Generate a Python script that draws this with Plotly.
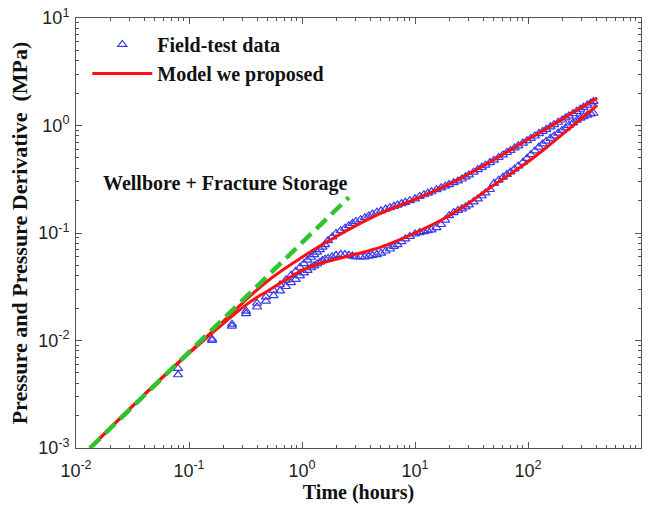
import plotly.graph_objects as go

# ---------------- data ----------------
# Field-test data: pressure branch
p_t = [0.08, 0.16, 0.24, 0.32, 0.40, 0.48, 0.56, 0.64, 0.72, 0.80, 0.88, 0.96, 1.04, 1.12,
       1.20, 1.28, 1.36, 1.44, 1.52, 1.60,
       1.7, 1.85, 2.0, 2.2, 2.4, 2.6, 2.8, 3.0, 3.3, 3.6, 3.9, 4.2, 4.6, 5.0, 5.5, 6.0, 6.5,
       7.0, 7.6, 8.2, 9.0, 10, 11, 12, 13, 14, 15.5, 17, 18.5, 20, 22, 24, 26, 28, 30, 33,
       36, 39, 42, 46, 50, 55, 60, 65, 70, 76, 82, 90, 98, 106, 115, 125, 135, 145, 158,
       170, 185, 200, 215, 230, 250, 270, 290, 310, 335, 360, 380]
p_y = [0.0055, 0.0103, 0.0142, 0.0188, 0.0222, 0.0255, 0.0292, 0.0330, 0.0365, 0.0405,
       0.0440, 0.0480, 0.0520, 0.0560, 0.0595, 0.0630, 0.0665, 0.0700, 0.0740, 0.0780,
       0.085, 0.092, 0.099, 0.105, 0.111, 0.117, 0.123, 0.128, 0.133, 0.139, 0.144, 0.150,
       0.156, 0.161, 0.167, 0.172, 0.177, 0.182, 0.188, 0.193, 0.200, 0.208, 0.219, 0.227,
       0.235, 0.242, 0.253, 0.263, 0.273, 0.282, 0.294, 0.305, 0.318, 0.333, 0.347, 0.368,
       0.389, 0.408, 0.428, 0.452, 0.476, 0.505, 0.533, 0.561, 0.587, 0.618, 0.647, 0.686,
       0.723, 0.759, 0.799, 0.841, 0.882, 0.922, 0.972, 1.017, 1.072, 1.125, 1.177, 1.227,
       1.293, 1.355, 1.417, 1.477, 1.549, 1.620, 1.674]

# Field-test data: derivative branch
d_t = [0.08, 0.16, 0.24, 0.32, 0.40, 0.48, 0.56, 0.64, 0.72, 0.80, 0.88, 0.96, 1.04, 1.12,
       1.20, 1.28, 1.36, 1.44, 1.52, 1.60,
       1.7, 1.85, 2.0, 2.2, 2.4, 2.6, 2.8, 3.0, 3.3, 3.6, 3.9, 4.2, 4.6, 5.0, 5.5, 6.0, 6.5,
       7.0, 7.6, 8.2, 9.0, 10, 11, 12, 13, 14, 15.5, 17, 18.5, 20, 22, 24, 26, 28, 30, 33,
       36, 39, 42, 46, 50, 55, 60, 65, 70, 76, 82, 90, 98, 106, 115, 125, 135, 145, 158,
       170, 185, 200, 215, 230, 250, 270, 290, 310, 335, 360, 380]
d_y = [0.0048, 0.0100, 0.0136, 0.0178, 0.0205, 0.0232, 0.0262, 0.0290, 0.0318, 0.0345,
       0.0370, 0.0400, 0.0425, 0.0450, 0.0475, 0.0495, 0.0515, 0.0535, 0.0555, 0.0570,
       0.058, 0.060, 0.062, 0.063, 0.063, 0.062, 0.061, 0.060, 0.060, 0.060, 0.061, 0.062,
       0.063, 0.065, 0.068, 0.071, 0.075, 0.078, 0.083, 0.088, 0.093, 0.098, 0.101, 0.103,
       0.105, 0.107, 0.112, 0.120, 0.132, 0.145, 0.155, 0.162, 0.168, 0.175, 0.183, 0.195,
       0.208, 0.222, 0.236, 0.254, 0.290, 0.310, 0.330, 0.350, 0.370, 0.395, 0.420, 0.455,
       0.495, 0.535, 0.580, 0.630, 0.675, 0.715, 0.760, 0.800, 0.850, 0.900, 0.950, 1.000,
       1.060, 1.120, 1.170, 1.210, 1.250, 1.280, 1.300]

# Model we proposed: pressure curve
mp_t = [0.0133, 0.05, 0.1, 0.2, 0.35, 0.5, 0.7, 1.0, 1.4, 2.0, 3.0, 5.0, 8.0, 13.6, 25,
        50, 100, 150, 250, 410]
mp_y = [0.001, 0.0039, 0.0077, 0.0150, 0.0262, 0.0360, 0.0465, 0.0595, 0.0745, 0.0925,
        0.117, 0.153, 0.187, 0.236, 0.32, 0.48, 0.74, 0.95, 1.32, 1.80]

# Model we proposed: derivative curve
md_t = [0.0133, 0.05, 0.1, 0.2, 0.35, 0.5, 0.7, 1.0, 1.4, 2.0, 3.0, 5.0, 7.0, 10, 19, 30,
        50, 100, 150, 250, 410]
md_y = [0.001, 0.0039, 0.0076, 0.0143, 0.0230, 0.0290, 0.0360, 0.0450, 0.0515, 0.0570,
        0.0635, 0.074, 0.085, 0.100, 0.140, 0.190, 0.280, 0.460, 0.640, 1.000, 1.550]

# Wellbore + fracture storage unit-slope line
ws_t = [0.0133, 2.6]
ws_y = [0.001, 0.215]

# Tick labels
x_ticks = [0.01, 0.1, 1, 10, 100, 1000]
x_labels = ["10<sup>-2</sup>", "10<sup>-1</sup>", "10<sup>0</sup>", "10<sup>1</sup>",
            "10<sup>2</sup>", "10<sup>3</sup>"]
y_ticks = [0.001, 0.01, 0.1, 1, 10]
y_labels = ["10<sup>-3</sup>", "10<sup>-2</sup>", "10<sup>-1</sup>", "10<sup>0</sup>",
            "10<sup>1</sup>"]

SERIF = "Liberation Serif, Times New Roman, serif"
SANS = "Liberation Sans, Arial, sans-serif"

fig = go.Figure()

fig.add_trace(go.Scatter(
    x=p_t + d_t, y=p_y + d_y, mode="markers", name="<b>Field-test data</b>",
    marker=dict(symbol="triangle-up-open", size=8, color="#3a3ae8",
                line=dict(width=1.2, color="#3a3ae8")),
))

fig.add_trace(go.Scatter(
    x=mp_t + [None] + md_t, y=mp_y + [None] + md_y, mode="lines",
    name="<b>Model we proposed</b>", line=dict(color="#ff1010", width=3, shape="spline"),
))

fig.add_trace(go.Scatter(
    x=ws_t, y=ws_y, mode="lines", showlegend=False,
    line=dict(color="#2ec42e", width=4.5, dash="14px,7px"),
))

fig.add_annotation(x=-0.68, y=-0.54, xref="x", yref="y",
                   text="<b>Wellbore + Fracture Storage</b>",
                   showarrow=False, font=dict(family=SERIF, size=20, color="#111"))

axis_common = dict(
    type="log", showline=True, linecolor="#555", linewidth=1, mirror="ticks",
    ticks="inside", ticklen=6, tickcolor="#555", showgrid=False, zeroline=False,
    automargin=False,
    tickfont=dict(family=SANS, size=18, color="#222"),
    minor=dict(ticks="inside", ticklen=3, tickcolor="#555", dtick="D1", showgrid=False),
)

fig.update_xaxes(range=[-2, 3], tickmode="array", tickvals=x_ticks, ticktext=x_labels,
                 ticklabelstandoff=6,
                 title=dict(text="<b>Time (hours)</b>",
                            font=dict(family=SERIF, size=20, color="#111"), standoff=4),
                 **axis_common)
fig.update_yaxes(range=[-3, 1], tickmode="array", tickvals=y_ticks, ticktext=y_labels,
                 ticklabelstandoff=2,
                 title=dict(text="<b>Pressure and Pressure Derivative  (MPa)</b>",
                            font=dict(family=SERIF, size=22, color="#111"), standoff=4),
                 **axis_common)

fig.update_layout(
    width=652, height=508,
    margin=dict(l=76, r=11, t=18, b=60, autoexpand=False),
    plot_bgcolor="white", paper_bgcolor="white",
    legend=dict(x=0.02, y=0.984, xanchor="left", yanchor="top", bgcolor="rgba(0,0,0,0)",
                font=dict(family=SERIF, size=20, color="#111"), itemwidth=60,
                tracegroupgap=0),
)

fig.write_html("out.html")
